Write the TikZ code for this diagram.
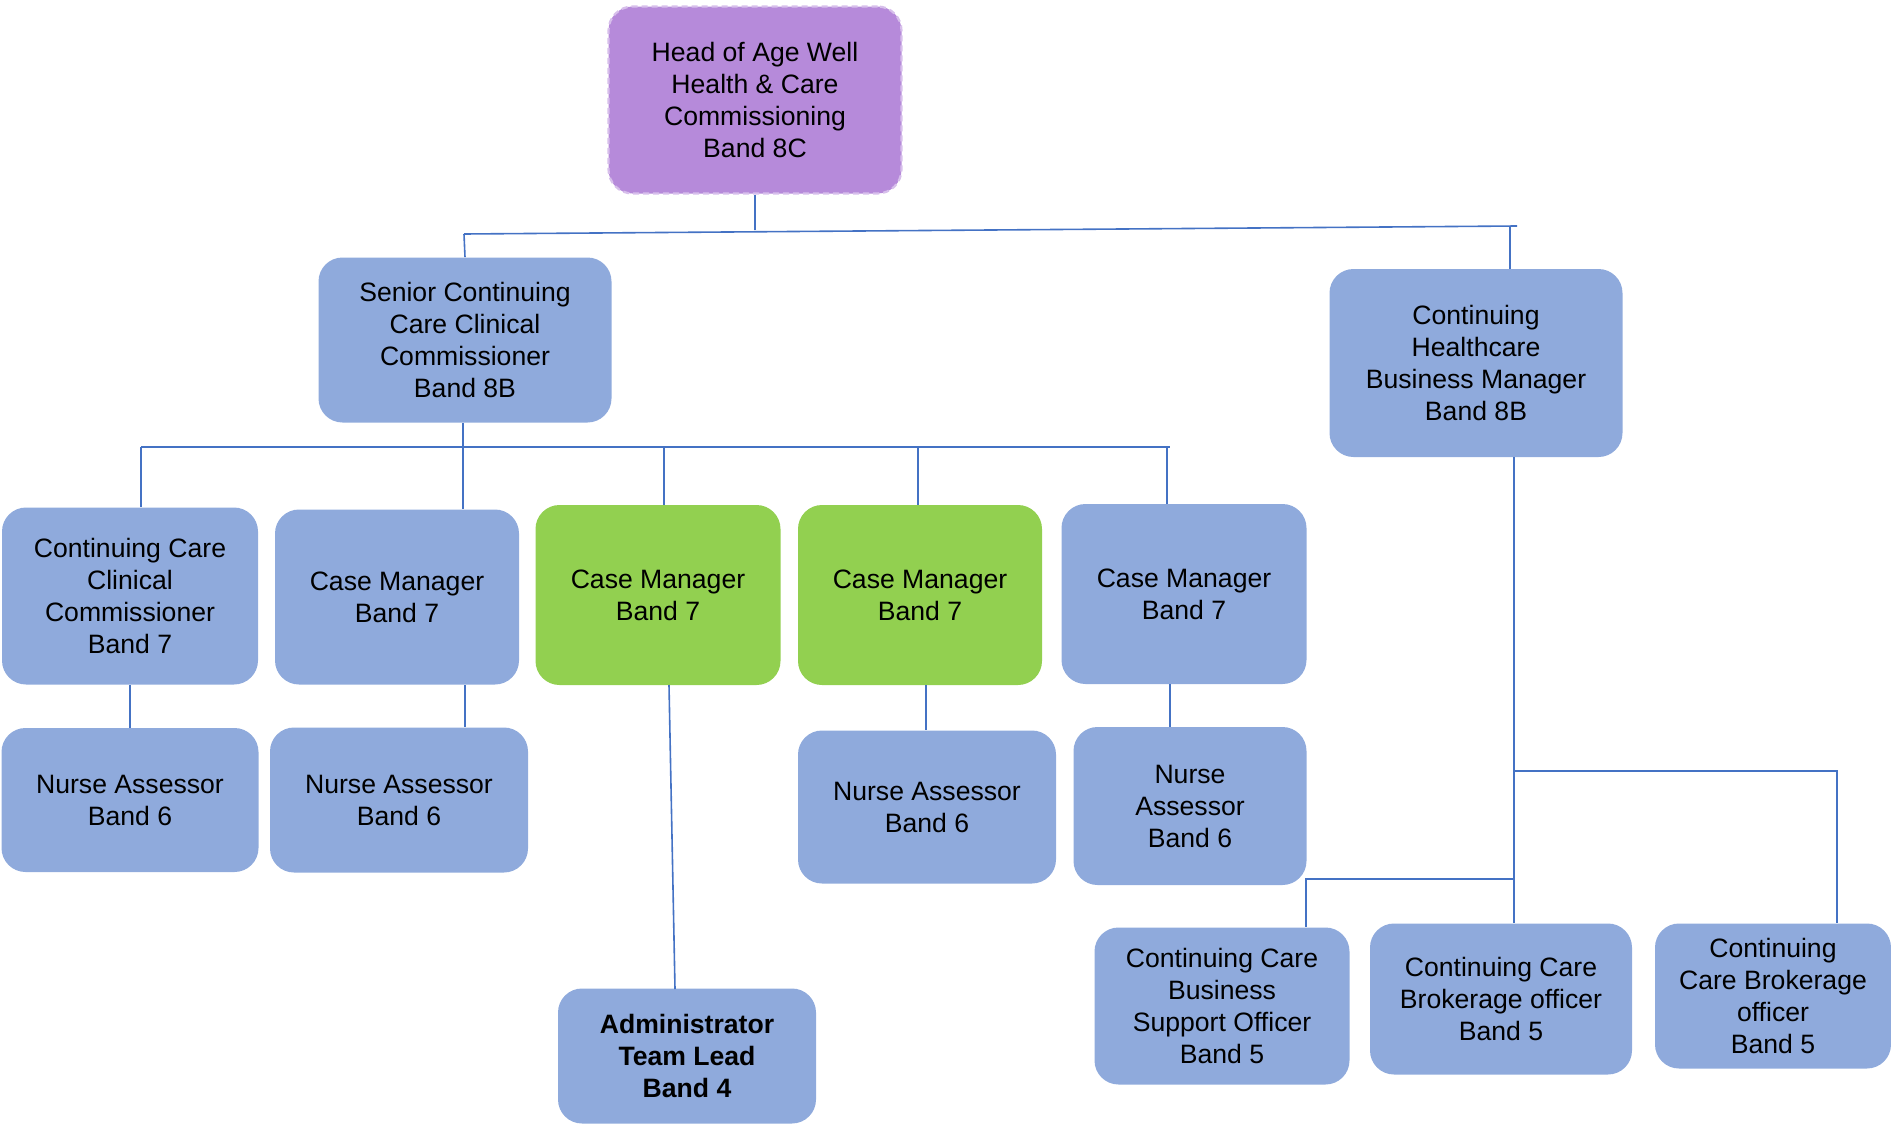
\documentclass[tikz,border=0pt]{standalone}
\usepackage{fontspec}
\setmainfont{Liberation Sans}
\usepackage{tikz}
\usetikzlibrary{positioning,calc}
\definecolor{PostBlue}{RGB}{143,170,220}
\definecolor{PostGreen}{RGB}{146,208,80}
\definecolor{HeadPurple}{RGB}{182,138,218}
\definecolor{LinkBlue}{RGB}{68,114,196}
\tikzset{
  post/.style={rounded corners=12pt,fill=PostBlue,align=center,inner sep=2pt,
    font=\fontsize{13.3}{16}\selectfont},
  greenpost/.style={post,fill=PostGreen},
  headpost/.style={post,fill=HeadPurple,draw=HeadPurple!55!white,
    dash pattern=on 3pt off 2pt,line width=1.1pt},
  link/.style={draw=LinkBlue,line width=0.8pt},
}

\begin{document}
\begin{tikzpicture}[x=0.5pt,y=-0.5pt]
\useasboundingbox (0,0) rectangle (1891,1124);
% top two levels
\node[headpost,minimum width=146.5pt,minimum height=93.5pt] (head) at (755,100) {Head of Age Well\\Health \& Care\\Commissioning\\Band 8C};
\node[post,minimum width=146.5pt,minimum height=82.5pt] (senior) at (465,340) {Senior Continuing\\Care Clinical\\Commissioner\\Band 8B};
\node[post,minimum width=146.5pt,minimum height=94pt] (bm) at (1476,363) {Continuing\\Healthcare\\Business Manager\\Band 8B};
% band 7
\node[post,minimum width=128pt,minimum height=88.5pt] (ccc) at (130,596) {Continuing Care\\Clinical\\Commissioner\\Band 7};
\node[post,minimum width=122pt,minimum height=87.5pt] (cm1) at (397,597) {Case Manager\\Band 7};
\node[greenpost,minimum width=122.5pt,minimum height=90pt] (cm2) at (658,595) {Case Manager\\Band 7};
\node[greenpost,minimum width=122pt,minimum height=90pt] (cm3) at (920,595) {Case Manager\\Band 7};
\node[post,minimum width=122.5pt,minimum height=90pt] (cm4) at (1184,594) {Case Manager\\Band 7};
% band 6 and 4
\node[post,minimum width=128.5pt,minimum height=72pt] (na1) at (130,800) {Nurse Assessor\\Band 6};
\node[post,minimum width=129pt,minimum height=72.5pt] (na2) at (399,800) {Nurse Assessor\\Band 6};
\node[post,minimum width=129pt,minimum height=76.5pt] (na3) at (927,807) {Nurse Assessor\\Band 6};
\node[post,minimum width=116.5pt,minimum height=79pt] (na4) at (1190,806) {Nurse\\Assessor\\Band 6};
\node[post,minimum width=129pt,minimum height=67.5pt] (admin) at (687,1056) {\bfseries Administrator\\\bfseries Team Lead\\\bfseries Band 4};
% band 5
\node[post,minimum width=127.5pt,minimum height=78.5pt] (cbs) at (1222,1006) {Continuing Care\\Business\\Support Officer\\Band 5};
\node[post,minimum width=131pt,minimum height=75.5pt] (cbo1) at (1501,999) {Continuing Care\\Brokerage officer\\Band 5};
\node[post,minimum width=118pt,minimum height=72.5pt] (cbo2) at (1773,996) {Continuing\\Care Brokerage\\officer\\Band 5};

% buses
\coordinate (busL) at (464,234);
\coordinate (busR) at (1517,226);
\coordinate (busM) at (755,230);
\coordinate (tapBM) at (1510,227);
\draw[link] (busL) -- (busR);
\draw[link] (head.south) -- (busM);
\draw[link] (busL) -- (senior.north);
\draw[link] (tapBM) -- (tapBM |- bm.north);

\coordinate (rowL) at (141,447);
\coordinate (rowR) at (1170,447);
\coordinate (tapS) at (463,447);
\coordinate (tap2) at (664,447);
\coordinate (tap3) at (918,447);
\coordinate (tap4) at (1167,447);
\draw[link] (rowL) -- (rowR);
\draw[link] (tapS |- senior.south) -- (tapS |- cm1.north);
\draw[link] (rowL) -- (rowL |- ccc.north);
\draw[link] (tap2) -- (tap2 |- cm2.north);
\draw[link] (tap3) -- (tap3 |- cm3.north);
\draw[link] (tap4) -- (tap4 |- cm4.north);

% down to nurse assessors
\coordinate (dn2) at (465,685);
\coordinate (dn3) at (926,685);
\coordinate (dn4) at (1170,684);
\coordinate (dnA) at (669,685);
\coordinate (upA) at (675,989);
\draw[link] (ccc.south) -- (na1.north);
\draw[link] (dn2) -- (dn2 |- na2.north);
\draw[link] (dn3) -- (dn3 |- na3.north);
\draw[link] (dn4) -- (dn4 |- na4.north);
\draw[link] (dnA) -- (upA);

% right branch
\coordinate (trunk) at (1514,457);
\coordinate (jUp) at (1514,771);
\coordinate (jLow) at (1514,879);
\coordinate (cornerR) at (1837,771);
\coordinate (cornerL) at (1306,879);
\draw[link] (trunk) -- (trunk |- cbo1.north);
\draw[link] (jUp) -- (cornerR) -- (cornerR |- cbo2.north);
\draw[link] (jLow) -- (cornerL) -- (cornerL |- cbs.north);
\end{tikzpicture}
\end{document}
